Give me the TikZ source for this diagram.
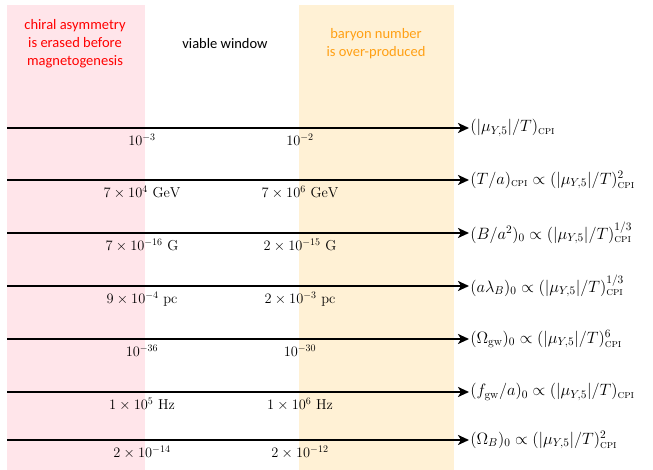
\documentclass[tikz,border=0pt]{standalone}
\usepackage{amsmath}
\usepackage{fontspec}
\newfontfamily\hdrfont{Carlito}
\usetikzlibrary{arrows.meta}
\definecolor{pinkbg}{RGB}{255,229,234}
\definecolor{orangebg}{RGB}{255,241,213}
\definecolor{hdrred}{RGB}{255,0,0}
\definecolor{hdrorange}{RGB}{255,160,20}
\newcommand{\cpisub}{\text{\textsc{cpi}}}
\tikzset{
  hdr/.style={font=\hdrfont\fontsize{14.5}{18}\selectfont, align=center},
  valbox/.style={font=\Large, anchor=north, inner sep=1pt},
  rlabel/.style={font=\Large, anchor=west, inner sep=1pt, scale=1.14, transform shape},
  axisarrow/.style={line width=2.6pt, -{Stealth[length=11pt,width=10pt,inset=3pt]}},
}
\begin{document}
\begin{tikzpicture}[x=1pt,y=1pt]
\useasboundingbox (0,0) rectangle (653,470);
\fill[pinkbg] (7,0) rectangle (145,465);
\fill[orangebg] (299,0) rectangle (454,465);
\node[hdr, text=hdrred] (h1) at (75,426) {chiral asymmetry\\is erased before\\magnetogenesis};
\node[hdr] (h2) at (225,426) {viable window};
\node[hdr, text=hdrorange] (h3) at (376,426) {baryon number\\is over-produced};
% rows
\foreach \i/\y in {1/342,2/290,3/237,4/184,5/131,6/78,7/30}{
  \coordinate (s\i) at (7,\y);
  \coordinate (e\i) at (469,\y);
}
\node[rlabel] (r1) at (e1) {$(|\mu_{Y,5}|/T)_{\cpisub}$};
\node[rlabel] (r2) at (e2) {$(T/a)_{\cpisub}\propto(|\mu_{Y,5}|/T)^2_{\cpisub}$};
\node[rlabel] (r3) at (e3) {$(B/a^2)_0\propto(|\mu_{Y,5}|/T)^{1/3}_{\cpisub}$};
\node[rlabel] (r4) at (e4) {$(a\lambda_B)_0\propto(|\mu_{Y,5}|/T)^{1/3}_{\cpisub}$};
\node[rlabel] (r5) at (e5) {$(\Omega_{\rm gw})_0\propto(|\mu_{Y,5}|/T)^6_{\cpisub}$};
\node[rlabel] (r6) at (e6) {$(f_{\rm gw}/a)_0\propto(|\mu_{Y,5}|/T)_{\cpisub}$};
\node[rlabel] (r7) at (e7) {$(\Omega_B)_0\propto(|\mu_{Y,5}|/T)^2_{\cpisub}$};
\foreach \i in {1,...,7}{
  \draw[axisarrow] (s\i) -- (r\i.west);
}
\node[valbox] (a1) at (142,337) {$10^{-3}$};
\node[valbox] (b1) at (300,337) {$10^{-2}$};
\node[valbox] (a2) at (142,285) {$7\times10^{4}~\mathrm{GeV}$};
\node[valbox] (b2) at (300,285) {$7\times10^{6}~\mathrm{GeV}$};
\node[valbox] (a3) at (142,232) {$7\times10^{-16}~\mathrm{G}$};
\node[valbox] (b3) at (300,232) {$2\times10^{-15}~\mathrm{G}$};
\node[valbox] (a4) at (142,179) {$9\times10^{-4}~\mathrm{pc}$};
\node[valbox] (b4) at (300,179) {$2\times10^{-3}~\mathrm{pc}$};
\node[valbox] (a5) at (142,126) {$10^{-36}$};
\node[valbox] (b5) at (300,126) {$10^{-30}$};
\node[valbox] (a6) at (142,73) {$1\times10^{5}~\mathrm{Hz}$};
\node[valbox] (b6) at (300,73) {$1\times10^{6}~\mathrm{Hz}$};
\node[valbox] (a7) at (142,25) {$2\times10^{-14}$};
\node[valbox] (b7) at (300,25) {$2\times10^{-12}$};
\end{tikzpicture}
\end{document}
